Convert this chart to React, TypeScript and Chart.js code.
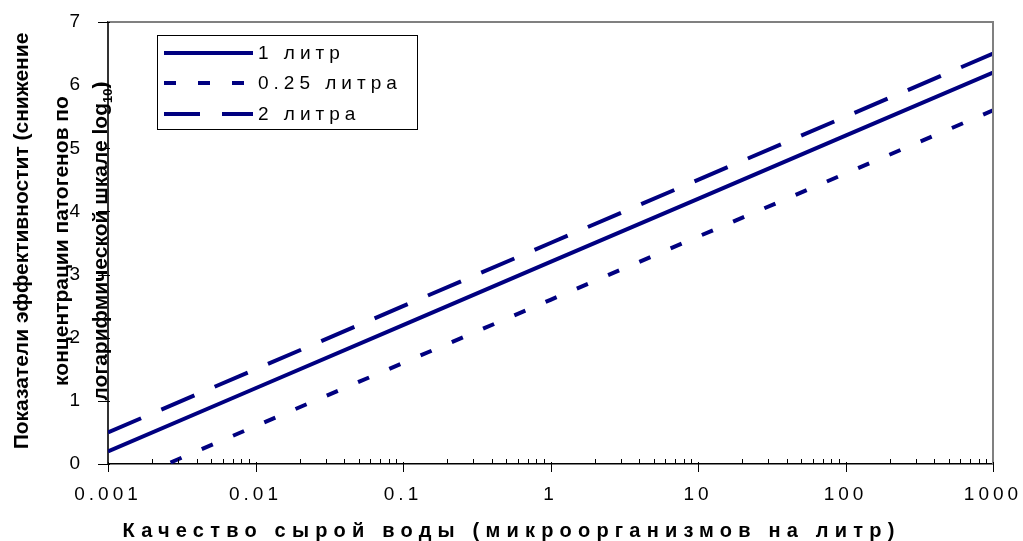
import { useEffect, useRef } from 'react';
import { Chart, registerables } from 'chart.js';

Chart.register(...registerables);

const xValues = [0.001, 0.01, 0.1, 1, 10, 100, 1000];
const series1L = [0.2, 1.2, 2.2, 3.2, 4.2, 5.2, 6.2];
const series025L = [-0.4, 0.6, 1.6, 2.6, 3.6, 4.6, 5.6];
const series2L = [0.5, 1.5, 2.5, 3.5, 4.5, 5.5, 6.5];
const seriesNames = ['1 литр', '0.25 литра', '2 литра'];
const xTickLabels = ['0.001', '0.01', '0.1', '1', '10', '100', '1000'];
const minorMultipliers = [2, 3, 4, 5, 6, 7, 8, 9];
const yTitleLines = ['Показатели эффективностит (снижение', 'концентрации патогенов по', 'логарифмической шкале log'];
const yTitleSub = '10';
const yTitleEnd = ')';
const xTitle = 'Качество сырой воды (микроорганизмов на литр)';

const NAVY = '#000080';
const FONT = '"Liberation Sans", Arial, sans-serif';
const dashes: number[][] = [[], [12, 22], [36, 22]];

const decoPlugin = {
  id: 'deco',
  beforeDraw(chart: any) {
    chart.ctx.letterSpacing = '4px';
  },
  afterDatasetsDraw(chart: any) {
    const ctx = chart.ctx;
    const a = chart.chartArea;
    const xs = chart.scales.x;
    const ys = chart.scales.y;
    ctx.save();
    // top and right frame
    ctx.strokeStyle = '#808080';
    ctx.lineWidth = 2;
    ctx.beginPath();
    ctx.moveTo(a.left, a.top);
    ctx.lineTo(a.right, a.top);
    ctx.lineTo(a.right, a.bottom);
    ctx.stroke();
    // x ticks
    ctx.strokeStyle = '#000';
    ctx.lineWidth = 1;
    ctx.beginPath();
    xValues.forEach((v, i) => {
      const px = Math.round(xs.getPixelForValue(v)) + 0.5;
      ctx.moveTo(px, a.bottom - 2);
      ctx.lineTo(px, a.bottom + 8);
      if (i < xValues.length - 1) {
        minorMultipliers.forEach((m) => {
          const mx = Math.round(xs.getPixelForValue(v * m)) + 0.5;
          ctx.moveTo(mx, a.bottom - 5);
          ctx.lineTo(mx, a.bottom);
        });
      }
    });
    // y ticks
    ys.ticks.forEach((t: any) => {
      const py = Math.round(ys.getPixelForValue(t.value)) + 0.5;
      ctx.moveTo(a.left - 10, py);
      ctx.lineTo(a.left + 2, py);
    });
    ctx.stroke();
    ctx.restore();
  },
  afterDraw(chart: any) {
    const ctx = chart.ctx;
    const a = chart.chartArea;
    ctx.save();
    // legend
    const lx = 157, ly = 35, lw = 260, lh = 94;
    ctx.fillStyle = '#fff';
    ctx.fillRect(lx, ly, lw, lh);
    ctx.strokeStyle = '#000';
    ctx.lineWidth = 1;
    ctx.strokeRect(lx + 0.5, ly + 0.5, lw, lh);
    const rowYs = [53, 83, 114];
    chart.data.datasets.forEach((ds: any, i: number) => {
      ctx.strokeStyle = ds.borderColor;
      ctx.lineWidth = ds.borderWidth;
      ctx.setLineDash(ds.borderDash || []);
      ctx.beginPath();
      ctx.moveTo(lx + 7, rowYs[i]);
      ctx.lineTo(lx + 96, rowYs[i]);
      ctx.stroke();
      ctx.setLineDash([]);
      ctx.fillStyle = '#000';
      ctx.font = '19px ' + FONT;
      ctx.letterSpacing = '5px';
      ctx.textAlign = 'left';
      ctx.textBaseline = 'middle';
      ctx.fillText(ds.label, lx + 101, rowYs[i] + 1);
    });
    // y title
    ctx.letterSpacing = '0px';
    ctx.fillStyle = '#000';
    const cy = (a.top + a.bottom) / 2 - 2;
    const baseXs = [28, 68, 107];
    const big = 'bold 21px ' + FONT;
    const small = 'bold 13px ' + FONT;
    yTitleLines.forEach((line, i) => {
      ctx.save();
      ctx.translate(baseXs[i], cy);
      ctx.rotate(-Math.PI / 2);
      ctx.textBaseline = 'alphabetic';
      if (i < yTitleLines.length - 1) {
        ctx.font = big;
        ctx.textAlign = 'center';
        ctx.fillText(line, 0, 0);
      } else {
        ctx.textAlign = 'left';
        ctx.font = big;
        const w1 = ctx.measureText(line).width;
        const w3 = ctx.measureText(yTitleEnd).width;
        ctx.font = small;
        const w2 = ctx.measureText(yTitleSub).width;
        const start = -(w1 + w2 + w3) / 2;
        ctx.font = big;
        ctx.fillText(line, start, 0);
        ctx.font = small;
        ctx.fillText(yTitleSub, start + w1, 5);
        ctx.font = big;
        ctx.fillText(yTitleEnd, start + w1 + w2, 0);
      }
      ctx.restore();
    });
    // x title
    ctx.font = 'bold 20px ' + FONT;
    ctx.letterSpacing = '6.2px';
    ctx.textAlign = 'center';
    ctx.textBaseline = 'alphabetic';
    ctx.fillText(xTitle, chart.width / 2, 537);
    ctx.restore();
  },
};

export default function App() {
  const ref = useRef<HTMLCanvasElement | null>(null);
  useEffect(() => {
    if (!ref.current) return;
    const seriesValues = [series1L, series025L, series2L];
    const chart = new Chart(ref.current, {
      type: 'line',
      data: {
        datasets: seriesValues.map((vals, i) => ({
          label: seriesNames[i],
          data: xValues.map((x, j) => ({ x, y: vals[j] })),
          borderColor: NAVY,
          backgroundColor: NAVY,
          borderWidth: 4,
          borderDash: dashes[i],
          pointRadius: 0,
          tension: 0,
          fill: false,
          clip: 0,
        })),
      },
      options: {
        animation: false,
        responsive: true,
        maintainAspectRatio: false,
        layout: { padding: { top: 22, right: 30, left: 0, bottom: 0 } },
        plugins: {
          legend: { display: false },
          tooltip: { enabled: false },
          title: { display: false },
        },
        scales: {
          x: {
            type: 'logarithmic',
            min: 0.001,
            max: 1000,
            grid: { display: false, drawTicks: false },
            border: { display: true, color: '#000', width: 1.5 },
            afterBuildTicks: (scale: any) => {
              scale.ticks = xValues.map((v) => ({ value: v, major: true }));
            },
            afterFit: (scale: any) => {
              scale.height = 77;
              scale.paddingLeft = 0;
              scale.paddingRight = 0;
            },
            ticks: {
              autoSkip: false,
              maxRotation: 0,
              minRotation: 0,
              padding: 19,
              color: '#000',
              font: { family: FONT, size: 19 },
              callback: (_v: any, i: number) => xTickLabels[i],
            },
          },
          y: {
            min: 0,
            max: 7,
            grid: { display: false, drawTicks: false },
            border: { display: true, color: '#333', width: 2 },
            afterFit: (scale: any) => {
              scale.width = 108;
              scale.paddingTop = 0;
              scale.paddingBottom = 0;
            },
            ticks: {
              stepSize: 1,
              padding: 24,
              color: '#000',
              font: { family: FONT, size: 19 },
            },
          },
        },
      },
      plugins: [decoPlugin],
    } as any);
    return () => chart.destroy();
  }, []);
  return (
    <div style={{ position: 'absolute', left: 0, top: 0, width: 1023, height: 541, background: '#fff' }}>
      <canvas ref={ref} />
    </div>
  );
}
